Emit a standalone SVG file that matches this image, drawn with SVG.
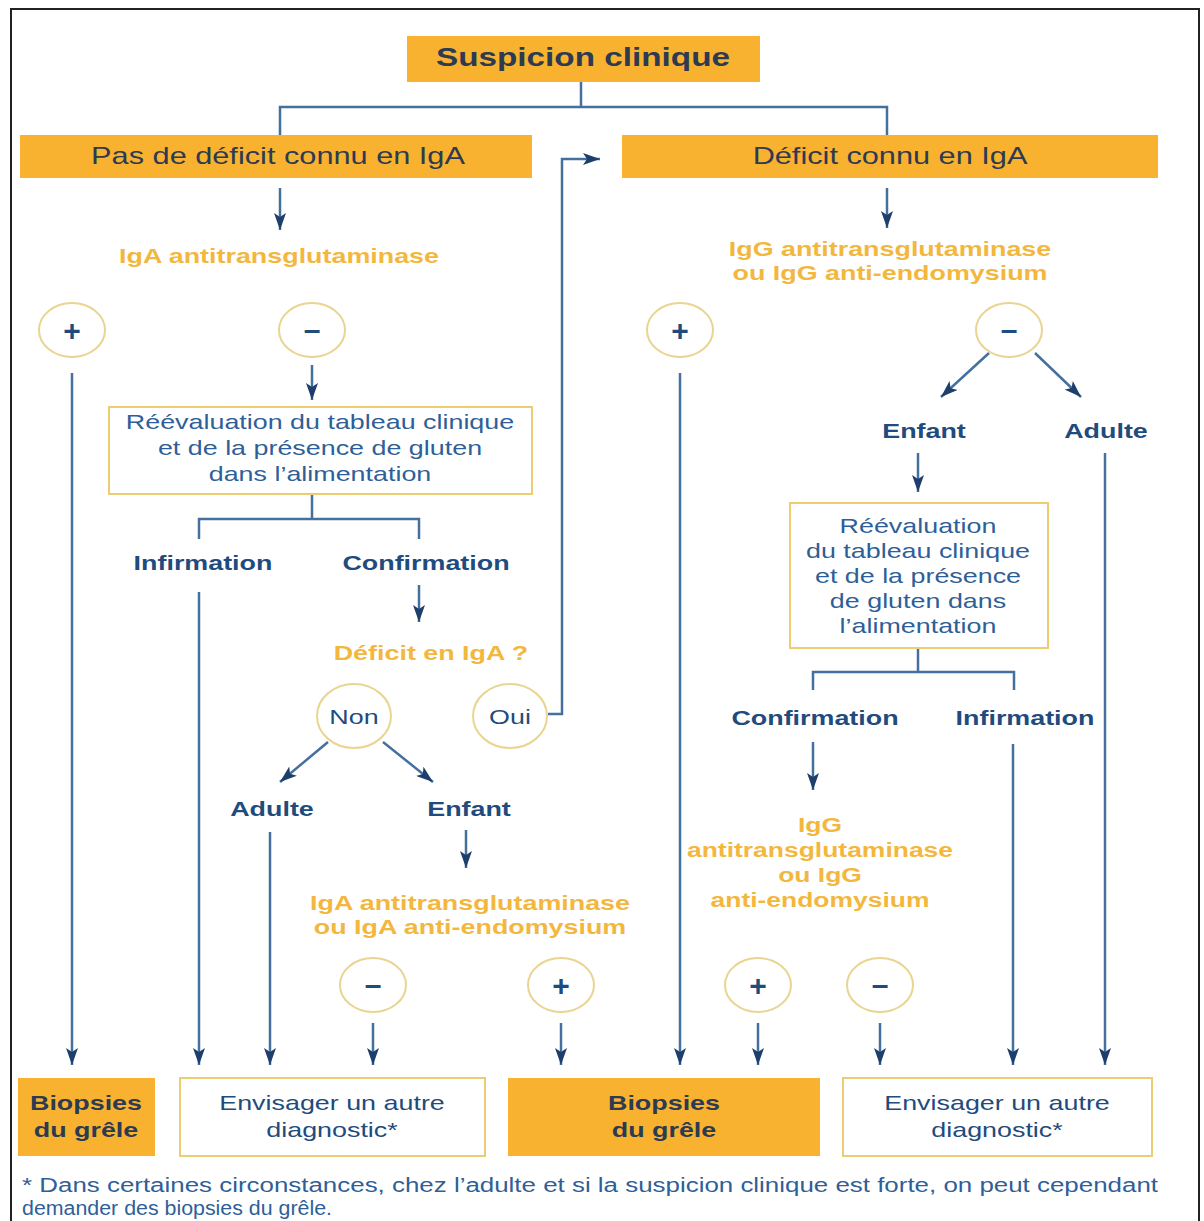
<svg xmlns="http://www.w3.org/2000/svg" width="1204" height="1221" viewBox="0 0 1204 1221">
<style>
text{font-family:"Liberation Sans",Arial,Helvetica,sans-serif}
.ob{fill:#F9B22F}
.wb{fill:#fff;stroke:#EDCD72;stroke-width:2}
.c{fill:#fff;stroke:#E9D591;stroke-width:2}
.ln{fill:none;stroke:#44709E;stroke-width:2.5}
.ar{marker-end:url(#ah)}
.td{fill:#2C3A52}
.tor{fill:#F3B73E;font-weight:bold;font-size:21px}
.tbl{fill:#1F4B7D;font-weight:bold;font-size:21px}
.tbr{fill:#2F5F98;font-size:21px}
.sg{fill:#1F4B7D;font-weight:bold;font-size:30px}
.tc{fill:#1F4B7D;font-size:21px}
.fn{fill:#2F5F98;font-size:19.5px}
</style>
<defs>
<marker id="ah" markerUnits="userSpaceOnUse" markerWidth="18" markerHeight="12" refX="17" refY="6" orient="auto">
<path d="M0,0 L17,6 L0,12 L4,6 z" fill="#1E3E6C"/>
</marker>
</defs>
<rect x="0" y="0" width="1204" height="1221" fill="#fff"/>
<rect x="11" y="9" width="1188" height="1222" fill="none" stroke="#222" stroke-width="2"/>

<g id="connectors">
<path class="ln" d="M581 82 V107 M280 135 V107 H887 V135"/>
<path class="ln ar" d="M280 188 V230"/>
<path class="ln ar" d="M887 188 V228"/>
<path class="ln ar" d="M72 373 V1065"/>
<path class="ln ar" d="M312 365 V400"/>
<path class="ln" d="M312 494 V519 M199 539 V519 H419 V539"/>
<path class="ln ar" d="M199 592 V1065"/>
<path class="ln ar" d="M419 585 V622"/>
<path class="ln ar" d="M548 714 H562 V159 H600"/>
<path class="ln ar" d="M328 742 L280 782"/>
<path class="ln ar" d="M383 742 L433 782"/>
<path class="ln ar" d="M270 832 V1065"/>
<path class="ln ar" d="M466 830 V868"/>
<path class="ln ar" d="M373 1023 V1065"/>
<path class="ln ar" d="M561 1023 V1065"/>
<path class="ln ar" d="M758 1023 V1065"/>
<path class="ln ar" d="M880 1023 V1065"/>
<path class="ln ar" d="M680 373 V1065"/>
<path class="ln ar" d="M989 353 L941 397"/>
<path class="ln ar" d="M1035 353 L1081 397"/>
<path class="ln ar" d="M918 453 V492"/>
<path class="ln ar" d="M1105 453 V1065"/>
<path class="ln" d="M918 648 V672 M813 690 V672 H1014 V690"/>
<path class="ln ar" d="M813 742 V790"/>
<path class="ln ar" d="M1013 744 V1065"/>
</g>

<g id="suspicion">
<rect class="ob" x="407" y="36" width="353" height="46"/>
<text class="td" font-weight="bold" font-size="26" text-anchor="middle" transform="translate(583 66) scale(1.28 1)">Suspicion clinique</text>
</g>
<g id="pas-deficit">
<rect class="ob" x="20" y="135" width="512" height="43"/>
<text class="td" font-size="24" text-anchor="middle" transform="translate(278 164) scale(1.28 1)">Pas de déficit connu en IgA</text>
</g>
<g id="deficit">
<rect class="ob" x="622" y="135" width="536" height="43"/>
<text class="td" font-size="24" text-anchor="middle" transform="translate(890 164) scale(1.28 1)">Déficit connu en IgA</text>
</g>
<g id="iga-tg">
<text class="tor" text-anchor="middle" transform="translate(279 263) scale(1.28 1)">IgA antitransglutaminase</text>
</g>
<g id="igg-tg">
<text class="tor" text-anchor="middle" transform="translate(890 256) scale(1.28 1)"><tspan x="0" y="0">IgG antitransglutaminase</tspan><tspan x="0" y="24">ou IgG anti-endomysium</tspan></text>
</g>
<g id="plus-1"><ellipse class="c" cx="72" cy="330" rx="33" ry="27"/><text class="sg" text-anchor="middle" x="72" y="341">+</text></g>
<g id="minus-1"><ellipse class="c" cx="312" cy="330" rx="33" ry="27"/><text class="sg" text-anchor="middle" x="312" y="340">–</text></g>
<g id="plus-2"><ellipse class="c" cx="680" cy="330" rx="33" ry="27"/><text class="sg" text-anchor="middle" x="680" y="341">+</text></g>
<g id="minus-2"><ellipse class="c" cx="1009" cy="330" rx="33" ry="27"/><text class="sg" text-anchor="middle" x="1009" y="340">–</text></g>

<g id="reeval-1">
<rect class="wb" x="109" y="407" width="423" height="87"/>
<text class="tbr" text-anchor="middle" transform="translate(320 429) scale(1.28 1)"><tspan x="0" y="0">Réévaluation du tableau clinique</tspan><tspan x="0" y="26">et de la présence de gluten</tspan><tspan x="0" y="52">dans l’alimentation</tspan></text>
</g>
<g id="infirmation-1"><text class="tbl" text-anchor="middle" transform="translate(203 570) scale(1.28 1)">Infirmation</text></g>
<g id="confirmation-1"><text class="tbl" text-anchor="middle" transform="translate(426 570) scale(1.28 1)">Confirmation</text></g>
<g id="deficit-q"><text class="tor" text-anchor="middle" transform="translate(431 660) scale(1.28 1)">Déficit en IgA ?</text></g>
<g id="non"><ellipse class="c" cx="354" cy="716" rx="37" ry="32"/><text class="tc" text-anchor="middle" transform="translate(354 724) scale(1.28 1)">Non</text></g>
<g id="oui"><ellipse class="c" cx="510" cy="716" rx="37" ry="32"/><text class="tc" text-anchor="middle" transform="translate(510 724) scale(1.28 1)">Oui</text></g>
<g id="adulte-1"><text class="tbl" text-anchor="middle" transform="translate(272 816) scale(1.28 1)">Adulte</text></g>
<g id="enfant-1"><text class="tbl" text-anchor="middle" transform="translate(469 816) scale(1.28 1)">Enfant</text></g>
<g id="iga-tg-ema">
<text class="tor" text-anchor="middle" transform="translate(470 910) scale(1.28 1)"><tspan x="0" y="0">IgA antitransglutaminase</tspan><tspan x="0" y="24">ou IgA anti-endomysium</tspan></text>
</g>
<g id="minus-3"><ellipse class="c" cx="373" cy="985" rx="33" ry="27"/><text class="sg" text-anchor="middle" x="373" y="995">–</text></g>
<g id="plus-3"><ellipse class="c" cx="561" cy="985" rx="33" ry="27"/><text class="sg" text-anchor="middle" x="561" y="996">+</text></g>

<g id="enfant-2"><text class="tbl" text-anchor="middle" transform="translate(924 438) scale(1.28 1)">Enfant</text></g>
<g id="adulte-2"><text class="tbl" text-anchor="middle" transform="translate(1106 438) scale(1.28 1)">Adulte</text></g>
<g id="reeval-2">
<rect class="wb" x="790" y="503" width="258" height="145"/>
<text class="tbr" text-anchor="middle" transform="translate(918 533) scale(1.28 1)"><tspan x="0" y="0">Réévaluation</tspan><tspan x="0" y="25">du tableau clinique</tspan><tspan x="0" y="50">et de la présence</tspan><tspan x="0" y="75">de gluten dans</tspan><tspan x="0" y="100">l’alimentation</tspan></text>
</g>
<g id="confirmation-2"><text class="tbl" text-anchor="middle" transform="translate(815 725) scale(1.28 1)">Confirmation</text></g>
<g id="infirmation-2"><text class="tbl" text-anchor="middle" transform="translate(1025 725) scale(1.28 1)">Infirmation</text></g>
<g id="igg-tg-ema">
<text class="tor" text-anchor="middle" transform="translate(820 832) scale(1.26 1)"><tspan x="0" y="0">IgG</tspan><tspan x="0" y="25">antitransglutaminase</tspan><tspan x="0" y="50">ou IgG</tspan><tspan x="0" y="75">anti-endomysium</tspan></text>
</g>
<g id="plus-4"><ellipse class="c" cx="758" cy="985" rx="33" ry="27"/><text class="sg" text-anchor="middle" x="758" y="996">+</text></g>
<g id="minus-4"><ellipse class="c" cx="880" cy="985" rx="33" ry="27"/><text class="sg" text-anchor="middle" x="880" y="995">–</text></g>

<g id="biopsies-1">
<rect class="ob" x="18" y="1078" width="137" height="78"/>
<text class="td" font-weight="bold" font-size="21" text-anchor="middle" transform="translate(86 1110) scale(1.28 1)"><tspan x="0" y="0">Biopsies</tspan><tspan x="0" y="27">du grêle</tspan></text>
</g>
<g id="autre-diag-1">
<rect class="wb" x="180" y="1078" width="305" height="78"/>
<text class="tc" text-anchor="middle" transform="translate(332 1110) scale(1.28 1)"><tspan x="0" y="0">Envisager un autre</tspan><tspan x="0" y="27">diagnostic*</tspan></text>
</g>
<g id="biopsies-2">
<rect class="ob" x="508" y="1078" width="312" height="78"/>
<text class="td" font-weight="bold" font-size="21" text-anchor="middle" transform="translate(664 1110) scale(1.28 1)"><tspan x="0" y="0">Biopsies</tspan><tspan x="0" y="27">du grêle</tspan></text>
</g>
<g id="autre-diag-2">
<rect class="wb" x="843" y="1078" width="309" height="78"/>
<text class="tc" text-anchor="middle" transform="translate(997 1110) scale(1.28 1)"><tspan x="0" y="0">Envisager un autre</tspan><tspan x="0" y="27">diagnostic*</tspan></text>
</g>

<g id="footnote">
<text class="fn" x="22" y="1192" textLength="1136" lengthAdjust="spacingAndGlyphs">* Dans certaines circonstances, chez l’adulte et si la suspicion clinique est forte, on peut cependant</text>
<text class="fn" x="22" y="1215" textLength="310" lengthAdjust="spacingAndGlyphs">demander des biopsies du grêle.</text>
</g>
</svg>
